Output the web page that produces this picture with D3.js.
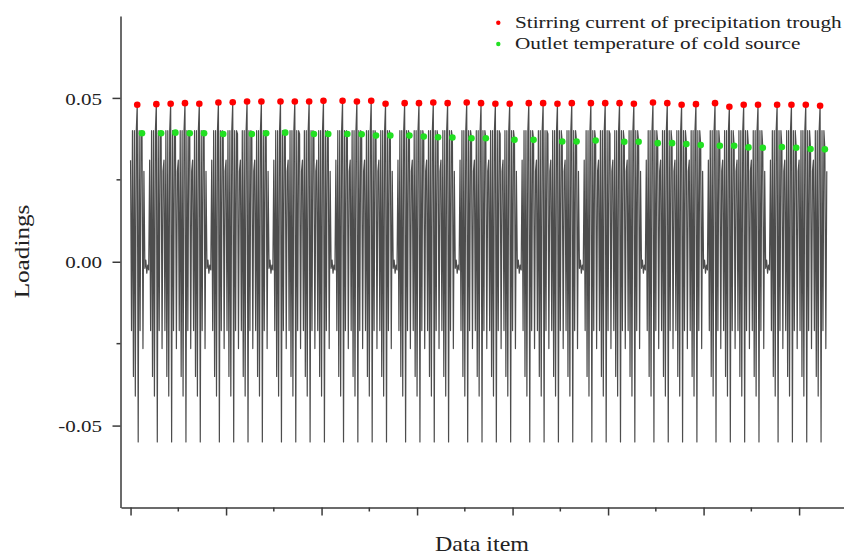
<!DOCTYPE html>
<html lang="en">
<head>
<meta charset="utf-8">
<title>Loadings</title>
<script src="https://d3js.org/d3.v7.min.js"></script>
<style>
  body { margin: 0; background: #fff; }
  text { font-family: "Liberation Serif", "Times New Roman", serif; fill: #222; }
</style>
</head>
<body>
<div id="chart"></div>
<script>
// one spike of the loading curve (slot 7 = stirring current, slot 12 = outlet temp)
const spikeShape = [0.031, -0.021, 0.040, -0.035, 0.040, -0.041, 0.040, 0.048, -0.055, 0.040, -0.021, 0.040, 0.039, -0.0265, 0.0276];
const gapShape = [-0.002, 0.0005, -0.0035, -0.001, -0.0025];
const groupSizes = [1, 4, 4, 4, 4, 4, 4, 4, 4, 4, 4, 4];
const redSlot = 7;
const greenSlot = 12;

const stirringCurrent = [
  0.0479,
  0.0481, 0.0482, 0.0484, 0.0482,
  0.0486, 0.0487, 0.0489, 0.0489,
  0.0489, 0.0489, 0.0489, 0.0491,
  0.0491, 0.0489, 0.0491, 0.0482,
  0.0484, 0.0484, 0.0486, 0.0484,
  0.0486, 0.0484, 0.0482, 0.0482,
  0.0484, 0.0484, 0.0482, 0.0484,
  0.0484, 0.0484, 0.0484, 0.0482,
  0.0486, 0.0484, 0.0479, 0.0481,
  0.0484, 0.0473, 0.0479, 0.0479,
  0.0479, 0.0479, 0.0479, 0.0476
];
// null = no visible dot in the picture
const outletTemp = [
  0.0392,
  0.0392, 0.0394, 0.0392, 0.0392,
  0.0390, null, 0.0390, 0.0392,
  0.0394, null, 0.0390, 0.0390,
  0.0390, 0.0389, 0.0385, 0.0385,
  0.0385, 0.0382, 0.0380, 0.0379,
  0.0377, 0.0377, null, 0.0372,
  0.0372, null, 0.0367, 0.0367,
  0.0370, null, 0.0366, 0.0366,
  0.0362, 0.0362, 0.0359, 0.0356,
  0.0354, 0.0354, 0.0349, 0.0348,
  0.0350, 0.0348, 0.0344, 0.0343
];

const yTicks = [-0.05, 0, 0.05];
const yTickLabels = ["-0.05", "0.00", "0.05"];
const yMinorTicks = [-0.025, 0.025];
const xTicks = [0, 100, 200, 300, 400, 500, 600, 700];
const xMinorTicks = [50, 150, 250, 350, 450, 550, 650];

const legendItems = [
  { name: "Stirring current of precipitation trough", color: "#ff0000" },
  { name: "Outlet temperature of cold source", color: "#22e022" }
];

const drawChart = () => {
  const width = 845, height = 557;
  const stretch = 1.2; // the picture's type is wide

  // build the curve from the spike shape
  const series = [], reds = [], greens = [];
  let item = 0, spike = 0;
  groupSizes.forEach((n, g) => {
    for (let s = 0; s < n; s++) {
      spikeShape.forEach((v, k) => {
        let val = v;
        if (k === redSlot) { val = stirringCurrent[spike]; reds.push({ i: item, v: val }); }
        if (k === greenSlot && outletTemp[spike] != null) { val = outletTemp[spike]; greens.push({ i: item, v: val }); }
        series.push({ i: item++, v: val });
      });
      spike++;
    }
    if (g < groupSizes.length - 1) gapShape.forEach(v => series.push({ i: item++, v }));
  });

  const x = d3.scaleLinear().domain([-10, 746.5]).range([121, 843.5]);
  const y = d3.scaleLinear().domain([-0.075, 0.075]).range([507.5, 16]);

  const svg = d3.select("#chart").append("svg")
      .attr("width", width)
      .attr("height", height);

  const line = d3.line().x(d => x(d.i)).y(d => y(d.v));
  svg.append("path")
      .datum(series)
      .attr("fill", "none")
      .attr("stroke", "#4d4d4d")
      .attr("stroke-width", 1.2)
      .attr("stroke-linejoin", "round")
      .attr("d", line);

  svg.append("g").selectAll("circle")
      .data(reds)
      .join("circle")
      .attr("cx", d => x(d.i))
      .attr("cy", d => y(d.v))
      .attr("r", 3.3)
      .attr("fill", legendItems[0].color);

  svg.append("g").selectAll("circle")
      .data(greens)
      .join("circle")
      .attr("cx", d => x(d.i))
      .attr("cy", d => y(d.v))
      .attr("r", 3.3)
      .attr("fill", legendItems[1].color);

  // axes
  const axisColor = "#3a3a3a";
  const yAxis = svg.append("g")
      .attr("transform", "translate(120.5,0)")
      .call(d3.axisLeft(y).tickValues(yTicks).tickSize(8).tickSizeOuter(0)
        .tickFormat((d, i) => yTickLabels[i]));
  yAxis.append("g").selectAll("line")
      .data(yMinorTicks)
      .join("line")
      .attr("x2", -4)
      .attr("y1", d => y(d))
      .attr("y2", d => y(d));
  yAxis.selectAll("text")
      .attr("x", -18.5 / stretch)
      .attr("dy", "0.35em")
      .attr("transform", `scale(${stretch},1)`)
      .style("font-size", "17.5px")
      .style("font-family", "'Liberation Serif', 'Times New Roman', serif")
      .attr("fill", "#222");

  const xAxis = svg.append("g")
      .attr("transform", "translate(0,507.5)")
      .call(d3.axisBottom(x).tickValues(xTicks).tickSize(8).tickSizeOuter(0).tickFormat(""));
  xAxis.append("g").selectAll("line")
      .data(xMinorTicks)
      .join("line")
      .attr("y2", 4)
      .attr("x1", d => x(d))
      .attr("x2", d => x(d));

  svg.selectAll(".domain, .tick line, g > line")
      .attr("stroke", axisColor)
      .attr("stroke-width", 1.5);

  // axis titles
  svg.append("text")
      .attr("transform", `translate(482,551) scale(${stretch},1)`)
      .attr("text-anchor", "middle")
      .style("font-size", "20px")
      .text("Data item");

  svg.append("text")
      .attr("transform", `translate(28.5,251.5) rotate(-90) scale(${stretch},1)`)
      .attr("text-anchor", "middle")
      .style("font-size", "21px")
      .text("Loadings");

  // legend
  const legend = svg.append("g");
  legendItems.forEach((d, i) => {
    const yy = 22.7 + i * 21.3;
    legend.append("circle")
        .attr("cx", 498.3)
        .attr("cy", yy)
        .attr("r", 2.2)
        .attr("fill", d.color);
    legend.append("text")
        .attr("transform", `translate(515,${yy + 5.3}) scale(${stretch},1)`)
        .style("font-size", "17.7px")
        .text(d.name);
  });
};

if (document.readyState !== 'loading') drawChart();
else document.addEventListener('DOMContentLoaded', drawChart);
</script>
</body>
</html>
